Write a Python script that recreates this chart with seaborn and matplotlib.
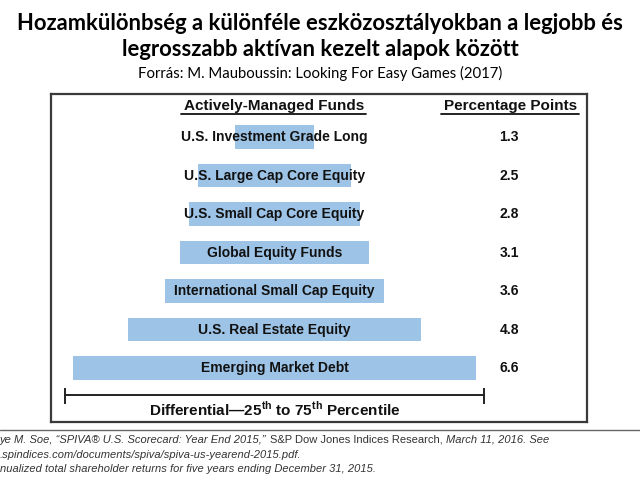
import numpy as np
import pandas as pd
import matplotlib
matplotlib.use("Agg")
import matplotlib.pyplot as plt
import seaborn as sns
from matplotlib.lines import Line2D
from matplotlib.offsetbox import TextArea, HPacker, AnchoredOffsetbox

# adatok
funds = [
    "U.S. Investment Grade Long",
    "U.S. Large Cap Core Equity",
    "U.S. Small Cap Core Equity",
    "Global Equity Funds",
    "International Small Cap Equity",
    "U.S. Real Estate Equity",
    "Emerging Market Debt",
]
points = [1.3, 2.5, 2.8, 3.1, 3.6, 4.8, 6.6]

title_lines = [
    "Hozamkülönbség a különféle eszközosztályokban a legjobb és",
    "legrosszabb aktívan kezelt alapok között",
]
subtitle = "Forrás: M. Mauboussin: Looking For Easy Games (2017)"
foot_line1 = [
    ("ye M. Soe, \u201cSPIVA\u00ae U.S. Scorecard: Year End 2015,\u201d ", "italic"),
    ("S&P Dow Jones Indices Research, ", "normal"),
    ("March 11, 2016. See", "italic"),
]
foot_line2 = ".spindices.com/documents/spiva/spiva-us-yearend-2015.pdf."
foot_line3 = "nualized total shareholder returns for five years ending December 31, 2015."

BAR_COLOR = "#9DC3E6"
EDGE = "#3a3a3a"
SPAN = 3.43  # a "Differential" vonal fel-hossza

sns.set_theme(style="white")
plt.rcParams["font.family"] = ["Liberation Sans", "DejaVu Sans"]
plt.rcParams["mathtext.fontset"] = "custom"
plt.rcParams["mathtext.rm"] = "Liberation Sans:bold"
plt.rcParams["mathtext.bf"] = "Liberation Sans:bold"

df = pd.DataFrame({"fund": funds, "points": points})
df["right"] = df["points"] / 2
df["left"] = -df["points"] / 2

fig = plt.figure(figsize=(6.4, 4.8), dpi=100)
ax = fig.add_axes([51 / 640, 58 / 480, 536 / 640, 328 / 480])

# kozepre igazitott savok: ket fel-sav
for col in ["right", "left"]:
    sns.barplot(data=df, x=col, y="fund", color=BAR_COLOR, saturation=1,
                width=0.61, errorbar=None, linewidth=0, ax=ax)

ax.set_xlim(-3.664, 5.123)
ax.set_ylim(7.40, -1.117)
ax.set(xlabel="", ylabel="", xticks=[], yticks=[])
for s in ax.spines.values():
    s.set_visible(True)
    s.set_color(EDGE)
    s.set_linewidth(1.6)

val_x = 3.85
for i, (f, p) in enumerate(zip(funds, points)):
    ax.text(0, i, f, ha="center", va="center", fontsize=10,
            fontweight="bold", color="#111", zorder=5)
    ax.text(val_x, i, f"{p:.1f}", ha="center", va="center", fontsize=10,
            fontweight="bold", color="#111")

h1 = ax.text(0, -0.80, "Actively-Managed Funds", ha="center", va="center",
             fontsize=11, fontweight="bold", color="#111")
h2 = ax.text(3.877, -0.80, "Percentage Points", ha="center", va="center",
             fontsize=11, fontweight="bold", color="#111")

# alahuzas
fig.canvas.draw()
inv = ax.transData.inverted()
for h in (h1, h2):
    bb = h.get_window_extent()
    (x0, _), (x1, _) = inv.transform([(bb.x0, bb.y0), (bb.x1, bb.y1)])
    ax.plot([x0 - 0.05, x1 + 0.03], [-0.60, -0.60], color="#111", lw=1.3)

# differential vonal
ax.plot([-SPAN, SPAN], [6.70, 6.70], color="#222", lw=1.4)
ax.vlines([-SPAN, SPAN], 6.52, 6.935, color="#222", lw=1.4)
ax.text(0, 7.07, "Differential\u2014" + r"25$^{\rm th}$ to 75$^{\rm th}$ Percentile",
        ha="center", va="center", fontsize=11, fontweight="bold", color="#111")

# cimek
tkw = dict(ha="center", va="center", fontweight="bold", fontsize=15.8,
           family=["Lato", "DejaVu Sans"], color="black")
fig.text(0.5, 1 - 23 / 480, title_lines[0], **tkw)
fig.text(0.5, 1 - 49 / 480, title_lines[1], **tkw)
fig.text(0.5, 1 - 73 / 480, subtitle, ha="center", va="center", fontsize=10.7,
         family=["Lato", "DejaVu Sans"], color="black")

# labjegyzet
fig.add_artist(Line2D([0, 1], [1 - 430 / 480] * 2, transform=fig.transFigure,
                      color="#666", lw=1))
fcol = "#333333"
box = HPacker(children=[TextArea(t, textprops=dict(fontstyle=st, fontsize=8, color=fcol))
                        for t, st in foot_line1], pad=0, sep=0, align="baseline")
fig.add_artist(AnchoredOffsetbox(loc="center left", child=box, pad=0, borderpad=0,
                                 frameon=False, bbox_to_anchor=(0, 1 - 440 / 480),
                                 bbox_transform=fig.transFigure))
fig.text(0, 1 - 455 / 480, foot_line2, ha="left", va="center", fontsize=8,
         fontstyle="italic", color=fcol)
fig.text(0, 1 - 469 / 480, foot_line3, ha="left", va="center", fontsize=8,
         fontstyle="italic", color=fcol)

fig.savefig("out.png", dpi=100)
